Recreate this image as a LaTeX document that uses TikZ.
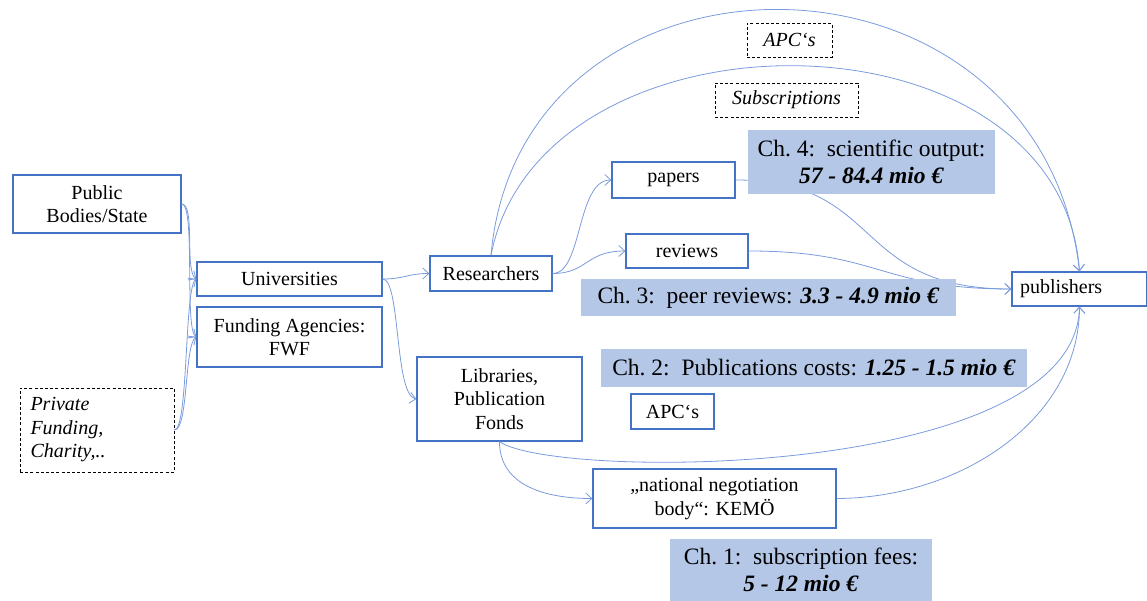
\documentclass[tikz,border=0pt]{standalone}
\usepackage{fontspec}
\setmainfont{Liberation Serif}
\usetikzlibrary{arrows.meta}
\definecolor{boxblue}{HTML}{4472C4}
\definecolor{lineblue}{HTML}{7A9BDD}
\definecolor{shadeblue}{HTML}{B4C7E7}
\begin{document}
\begin{tikzpicture}[x=1pt,y=-1pt,
 box/.style={draw=boxblue, line width=1.3pt, fill=white, inner sep=0pt, align=center, font=\fontsize{20}{23.5}\selectfont},
 dbox/.style={draw=black, line width=0.9pt, dash pattern=on 3pt off 2.2pt, fill=white, inner sep=0pt, align=center, font=\fontsize{20}{23.5}\selectfont\itshape},
 chbox/.style={fill=shadeblue, inner sep=0pt, align=center, font=\fontsize{23.5}{27}\selectfont},
 conn/.style={draw=lineblue, line width=0.8pt, -{Straight Barb[length=6pt,width=11pt]}}]
\useasboundingbox (0,0) rectangle (1147,601);

% plain boxes
\node[box, minimum width=168, minimum height=58] (pub) at (97,204) {Public\\Bodies/State};
\node[box, minimum width=185, minimum height=34] (uni) at (289.5,279) {Universities};
\node[box, minimum width=185, minimum height=60] (fwf) at (289.5,337) {Funding Agencies:\\FWF};
\node[dbox, minimum width=154, minimum height=84, text width=133, align=left] (priv) at (97,430) {Private\\Funding,\\Charity,..};
\node[box, minimum width=122, minimum height=35] (res) at (491,273.5) {Researchers};
\node[box, minimum width=165, minimum height=84] (lib) at (499.5,399) {Libraries,\\Publication\\Fonds};
\node[box, minimum width=123, minimum height=36] (papers) at (673.5,180) {papers};
\node[box, minimum width=122, minimum height=34] (reviews) at (687,251) {reviews};
\node[box, minimum width=135, minimum height=34, text width=119, align=left] (publ) at (1079.5,289) {publishers};
\node[box, minimum width=243, minimum height=59] (kemo) at (714.5,498.5) {„national negotiation\\body“: KEMÖ};
\node[box, minimum width=83, minimum height=35] (apcs) at (672.5,411.5) {APC‘s};
\node[dbox, minimum width=85, minimum height=34] (apcd) at (789.5,40) {APC‘s};
\node[dbox, minimum width=143, minimum height=34] (subs) at (786.5,100) {Subscriptions};

% connectors
\draw[conn] (pub.east) .. controls +(14,0) and +(-12,-8) .. (uni.west);
\draw[conn] (pub.east) .. controls +(14,0) and +(-12,-8) .. (fwf.west);
\draw[conn] (priv.east) .. controls +(14,0) and +(-12,8) .. (uni.west);
\draw[conn] (priv.east) .. controls +(14,0) and +(-12,8) .. (fwf.west);
\draw[conn] (uni.east) .. controls +(22,0) and +(-22,0) .. (res.west);
\draw[conn] (uni.east) .. controls +(18,0) and +(-22,-4) .. (lib.west);
\draw[conn] (res.east) .. controls +(30,0) and +(-35,0) .. (papers.west);
\draw[conn] (res.east) .. controls +(35,0) and +(-40,0) .. (reviews.west);
\draw[conn] (papers.east) .. controls (885,180) and (850,289) .. (publ.west);
\draw[conn] (reviews.east) .. controls (880,251) and (880,289) .. (publ.west);
\draw[conn] (res.north) .. controls (520,-75) and (1040,-75) .. (publ.north);
\draw[conn] (res.north) .. controls (540,0) and (1060,0) .. (publ.north);
\draw[conn] (lib.south) .. controls +(0,45) and +(-45,0) .. (kemo.west);
\draw[conn] (lib.south) .. controls (555,480) and (1075,480) .. (publ.south);
\draw[conn] (kemo.east) .. controls (960,498) and (1079,420) .. (publ.south);

% shaded cost boxes
\node[chbox, minimum width=247, minimum height=64] (ch4) at (871.5,162) {Ch.~4:\ \ scientific output:\\\textbf{\textit{57 - 84.4 mio €}}};
\node[chbox, minimum width=375, minimum height=37] (ch3) at (768.5,297.5) {Ch.~3:\ \ peer reviews: \textbf{\textit{3.3 - 4.9 mio €}}};
\node[chbox, minimum width=426, minimum height=38] (ch2) at (814,368) {Ch.~2:\ \ Publications costs: \textbf{\textit{1.25 - 1.5 mio €}}};
\node[chbox, minimum width=262, minimum height=62] (ch1) at (801,570) {Ch.~1:\ \ subscription fees:\\\textbf{\textit{5 - 12 mio €}}};
\end{tikzpicture}
\end{document}
